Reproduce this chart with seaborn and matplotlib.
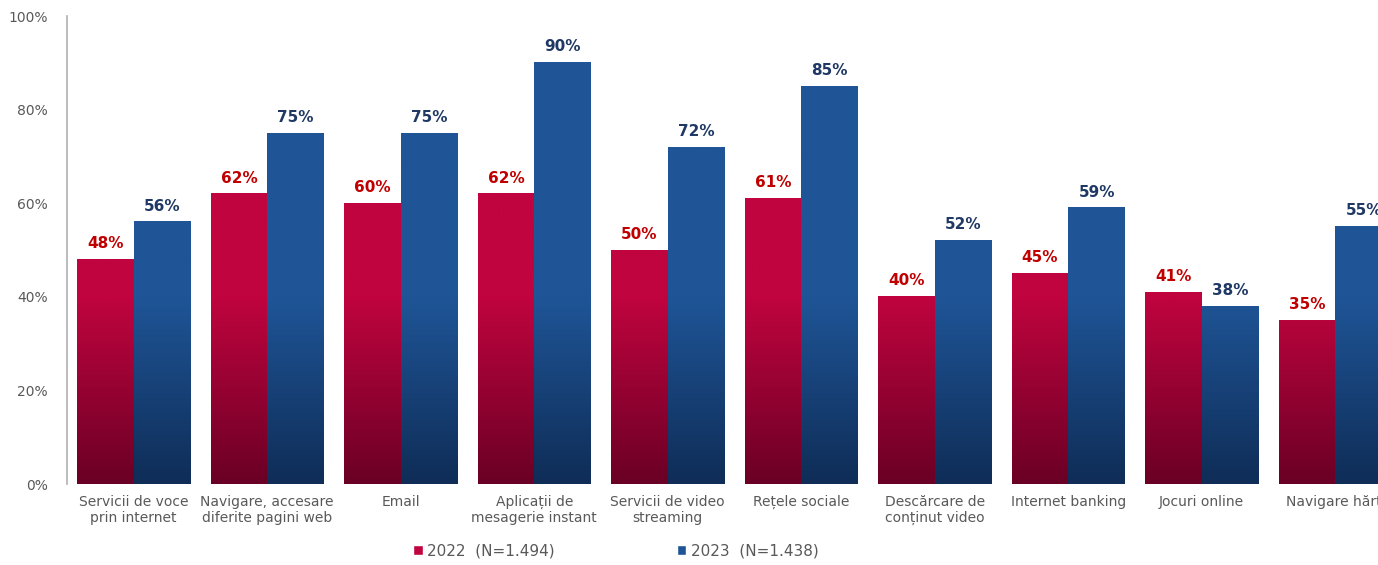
import numpy as np
import pandas as pd
import matplotlib
matplotlib.use("Agg")
import matplotlib.pyplot as plt
from matplotlib.colors import LinearSegmentedColormap
import seaborn as sns

categories = ["Servicii de voce\nprin internet", "Navigare, accesare\ndiferite pagini web", "Email",
              "Aplicații de\nmesagerie instant", "Servicii de video\nstreaming", "Rețele sociale",
              "Descărcare de\nconținut video", "Internet banking", "Jocuri online", "Navigare hărți"]
values_2022 = [48, 62, 60, 62, 50, 61, 40, 45, 41, 35]
values_2023 = [56, 75, 75, 90, 72, 85, 52, 59, 38, 55]
series_labels = ["2022  (N=1.494)", "2023  (N=1.438)"]
y_ticks = [0, 20, 40, 60, 80, 100]

df = pd.DataFrame({
    "cat": categories * 2,
    "val": values_2022 + values_2023,
    "series": [series_labels[0]] * len(categories) + [series_labels[1]] * len(categories),
})

sns.set_theme(style="white")
plt.rcParams["font.family"] = ["DejaVu Sans"]

red_top, red_bot = "#C0043F", "#6A0025"
blue_top, blue_bot = "#1F5597", "#0F2D57"
label_cols = ["#C00000", "#1F3864"]

fig = plt.figure(figsize=(13.78, 5.65), dpi=100)
ax = fig.add_axes([67 / 1378, 81 / 565, 1335 / 1378, 468 / 565])

sns.barplot(data=df, x="cat", y="val", hue="series", palette=[red_top, blue_top],
            width=0.85, ax=ax, legend=True, saturation=1)

cmaps = [LinearSegmentedColormap.from_list("r", [red_bot, red_top]),
         LinearSegmentedColormap.from_list("b", [blue_bot, blue_top])]

n = len(categories)
for i, cont in enumerate(ax.containers):
    for p in cont.patches:
        x0, w, h = p.get_x(), p.get_width(), p.get_height()
        ys = np.linspace(0, h, 200)
        g = np.clip(ys / 40.0, 0, 1)[:, None]
        ax.imshow(g, extent=[x0, x0 + w, 0, h], origin="lower", aspect="auto",
                  cmap=cmaps[i], vmin=0, vmax=1, zorder=2, interpolation="bilinear")
        p.set_edgecolor("none")
    ax.bar_label(cont, labels=[f"{v:.0f}%" for v in cont.datavalues], padding=6,
                 color=label_cols[i], fontsize=11, fontweight="bold", zorder=3)

ax.set_xlim(-0.5, n - 0.5)
ax.set_ylim(0, 100)
ax.set_yticks(y_ticks)
ax.set_yticklabels([f"{t}%" for t in y_ticks], color="#595959", fontsize=10)
ax.tick_params(axis="y", length=0, pad=14)
ax.tick_params(axis="x", length=0, pad=8, labelsize=10, labelcolor="#595959")
ax.set_xlabel("")
ax.set_ylabel("")
for s in ["top", "right", "bottom"]:
    ax.spines[s].set_visible(False)
ax.spines["left"].set_color("#B0B0B0")
ax.spines["left"].set_linewidth(1.2)

handles, labels = ax.get_legend_handles_labels()
ax.get_legend().remove()
fig.legend(handles, labels, loc="center", bbox_to_anchor=(616 / 1378, 14 / 565),
           ncol=2, frameon=False, fontsize=11, handlelength=0.6, handleheight=0.6,
           handletextpad=0.3, columnspacing=8, labelcolor="#595959")

fig.savefig("out.png", dpi=100)
